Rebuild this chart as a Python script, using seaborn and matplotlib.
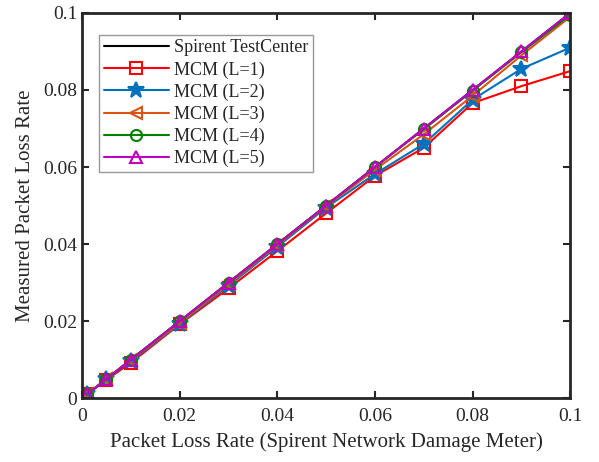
import numpy as np
import pandas as pd
import matplotlib
matplotlib.use("Agg")
import matplotlib.pyplot as plt
import seaborn as sns

# Data
x_rate = [0.001, 0.005, 0.01, 0.02, 0.03, 0.04, 0.05, 0.06, 0.07, 0.08, 0.09, 0.1]
spirent = [0.001, 0.005, 0.01, 0.02, 0.03, 0.04, 0.05, 0.06, 0.07, 0.08, 0.09, 0.1]
mcm_l1 = [0.001, 0.0048, 0.0092, 0.0192, 0.0285, 0.0382, 0.048, 0.0577, 0.065, 0.0766, 0.081, 0.0849]
mcm_l2 = [0.001, 0.0049, 0.0097, 0.0193, 0.0292, 0.0393, 0.0495, 0.0582, 0.066, 0.0775, 0.0855, 0.091]
mcm_l3 = [0.001, 0.005, 0.0099, 0.0195, 0.0296, 0.0397, 0.0498, 0.0593, 0.0685, 0.0785, 0.089, 0.099]
mcm_l4 = [0.001, 0.005, 0.01, 0.02, 0.03, 0.04, 0.05, 0.06, 0.0698, 0.0798, 0.0898, 0.0995]
mcm_l5 = [0.001, 0.005, 0.01, 0.02, 0.03, 0.04, 0.05, 0.06, 0.07, 0.08, 0.09, 0.1]

series = ["Spirent TestCenter", "MCM (L=1)", "MCM (L=2)", "MCM (L=3)", "MCM (L=4)", "MCM (L=5)"]
colors = ["black", "#FF0000", "#0072BD", "#D95319", "#008000", "#BF00BF"]
markers = ["", "s", "*", "<", "o", "^"]
msizes = [0, 8, 12, 8, 8, 9]
filled = [False, False, True, False, False, False]

rows = []
for name, vals in zip(series, [spirent, mcm_l1, mcm_l2, mcm_l3, mcm_l4, mcm_l5]):
    for xv, yv in zip(x_rate, vals):
        rows.append({"x": xv, "y": yv, "series": name})
df = pd.DataFrame(rows)

sns.set_style("ticks")
plt.rcParams["font.family"] = ["Liberation Serif", "DejaVu Serif"]

fig, ax = plt.subplots(figsize=(5.99, 4.62), dpi=100)
fig.subplots_adjust(left=0.137, right=0.952, bottom=0.138, top=0.972)

for name, c, m, ms, f in zip(series, colors, markers, msizes, filled):
    sub = df[df["series"] == name]
    sns.lineplot(data=sub, x="x", y="y", ax=ax, color=c, label=name,
                 marker=m if m else None, markersize=ms,
                 markerfacecolor=c if f else "none",
                 markeredgecolor=c, markeredgewidth=1.5, linewidth=1.5)

ax.set_xlim(0, 0.1)
ax.set_ylim(0, 0.1)
ax.set_xticks([0, 0.02, 0.04, 0.06, 0.08, 0.1])
ax.set_yticks([0, 0.02, 0.04, 0.06, 0.08, 0.1])
ax.set_xticklabels(["0", "0.02", "0.04", "0.06", "0.08", "0.1"])
ax.set_yticklabels(["0", "0.02", "0.04", "0.06", "0.08", "0.1"])
ax.tick_params(direction="in", length=5, width=1.5, labelsize=14, top=True, right=True)
ax.tick_params(axis="x", pad=7)
for s in ax.spines.values():
    s.set_linewidth(2)
    s.set_visible(True)

ax.set_xlabel("Packet Loss Rate (Spirent Network Damage Meter)", fontsize=15, labelpad=5)
ax.set_ylabel("Measured Packet Loss Rate", fontsize=15, labelpad=6)

leg = ax.legend(loc="upper left", bbox_to_anchor=(0.035, 0.943), fontsize=13,
                frameon=True, fancybox=False, handlelength=3.6,
                borderpad=0.25, labelspacing=0.27, handletextpad=0.3,
                borderaxespad=0)
leg.get_frame().set_edgecolor("#7f7f7f")
leg.get_frame().set_linewidth(1.0)

fig.savefig("out.png", dpi=100)
